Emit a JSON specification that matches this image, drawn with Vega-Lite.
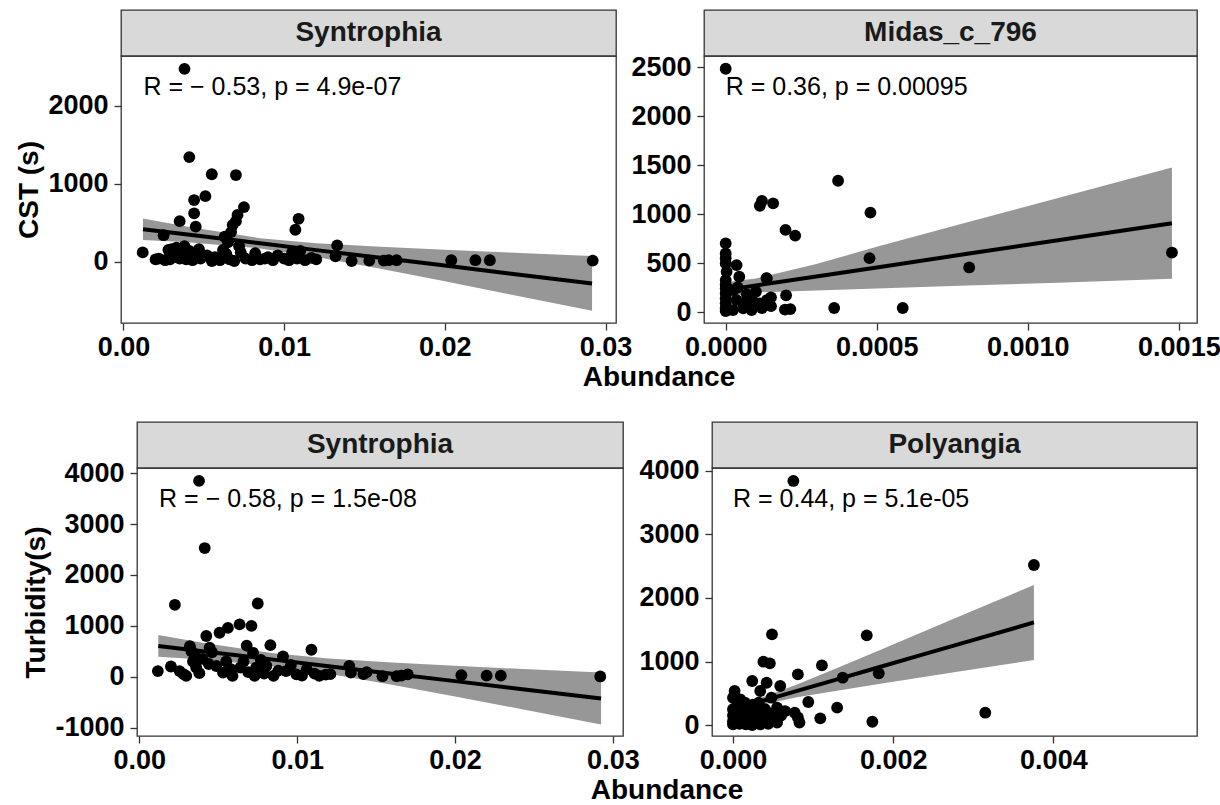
{
  "$schema": "https://vega.github.io/schema/vega-lite/v6.json",
  "padding": {"left": 13, "top": 9, "right": 5, "bottom": 5},
  "config": {
    "font": "Liberation Sans",
    "locale": {"number": {"decimal": ".", "thousands": ",", "grouping": [3], "currency": ["$", ""], "minus": "-"}},
    "view": {"stroke": "#333333", "strokeWidth": 1.3},
    "axis": {
      "grid": false, "domain": false,
      "tickColor": "#333333", "tickSize": 7, "tickWidth": 1.3,
      "labelFont": "Liberation Sans", "labelFontSize": 27, "labelFontWeight": "bold", "labelColor": "#000000",
      "titleFont": "Liberation Sans", "titleFontSize": 28, "titleFontWeight": "bold", "titleColor": "#000000",
      "labelFlush": false, "labelOverlap": false, "labelPadding": 4, "titlePadding": 4
    },
    "axisY": {"labelPadding": 6, "format": "d"}
  },
  "datasets": {
    "p1": [
      {"abundance": 0.0012, "value": 120}, {"abundance": 0.0020, "value": 30}, {"abundance": 0.0022, "value": 40},
      {"abundance": 0.0025, "value": 340}, {"abundance": 0.0026, "value": 20}, {"abundance": 0.0028, "value": 150},
      {"abundance": 0.0029, "value": 30}, {"abundance": 0.0030, "value": 160}, {"abundance": 0.0032, "value": 60},
      {"abundance": 0.0033, "value": 180}, {"abundance": 0.0035, "value": 520}, {"abundance": 0.0035, "value": 40},
      {"abundance": 0.0036, "value": 100}, {"abundance": 0.0038, "value": 2470}, {"abundance": 0.0038, "value": 200},
      {"abundance": 0.0039, "value": 30}, {"abundance": 0.0041, "value": 1340}, {"abundance": 0.0041, "value": 140},
      {"abundance": 0.0043, "value": 20}, {"abundance": 0.0044, "value": 790}, {"abundance": 0.0044, "value": 620},
      {"abundance": 0.0045, "value": 450}, {"abundance": 0.0045, "value": 100}, {"abundance": 0.0047, "value": 160},
      {"abundance": 0.0048, "value": 40}, {"abundance": 0.0051, "value": 840}, {"abundance": 0.0052, "value": 80},
      {"abundance": 0.0055, "value": 1120}, {"abundance": 0.0055, "value": 10}, {"abundance": 0.0057, "value": 60},
      {"abundance": 0.0060, "value": 20}, {"abundance": 0.0062, "value": 150}, {"abundance": 0.0063, "value": 320},
      {"abundance": 0.0064, "value": 100}, {"abundance": 0.0065, "value": 250}, {"abundance": 0.0066, "value": 30},
      {"abundance": 0.0067, "value": 380}, {"abundance": 0.0068, "value": 470}, {"abundance": 0.0069, "value": 10},
      {"abundance": 0.0070, "value": 1110}, {"abundance": 0.0070, "value": 520}, {"abundance": 0.0071, "value": 600},
      {"abundance": 0.0072, "value": 200}, {"abundance": 0.0073, "value": 120}, {"abundance": 0.0075, "value": 700},
      {"abundance": 0.0076, "value": 40}, {"abundance": 0.0080, "value": 20}, {"abundance": 0.0082, "value": 110},
      {"abundance": 0.0085, "value": 30}, {"abundance": 0.0088, "value": 40}, {"abundance": 0.0090, "value": 60},
      {"abundance": 0.0093, "value": 20}, {"abundance": 0.0096, "value": 80}, {"abundance": 0.0100, "value": 40},
      {"abundance": 0.0103, "value": 20}, {"abundance": 0.0105, "value": 120}, {"abundance": 0.0107, "value": 410},
      {"abundance": 0.0108, "value": 40}, {"abundance": 0.0109, "value": 550}, {"abundance": 0.0110, "value": 140},
      {"abundance": 0.0113, "value": 20}, {"abundance": 0.0117, "value": 50}, {"abundance": 0.0120, "value": 30},
      {"abundance": 0.0132, "value": 70}, {"abundance": 0.0133, "value": 210}, {"abundance": 0.0142, "value": 10},
      {"abundance": 0.0153, "value": 15}, {"abundance": 0.0162, "value": 15}, {"abundance": 0.0165, "value": 20},
      {"abundance": 0.0170, "value": 20}, {"abundance": 0.0204, "value": 20}, {"abundance": 0.0219, "value": 20},
      {"abundance": 0.0228, "value": 20}, {"abundance": 0.0292, "value": 15}
    ],
    "b1": [
      {"abundance": 0.00122, "fit": 417, "lo": 279, "hi": 555},
      {"abundance": 0.004, "fit": 348, "lo": 249, "hi": 447},
      {"abundance": 0.0085, "fit": 236, "lo": 171, "hi": 301},
      {"abundance": 0.012, "fit": 149, "lo": 62, "hi": 236},
      {"abundance": 0.016, "fit": 50, "lo": -91, "hi": 191},
      {"abundance": 0.020, "fit": -49, "lo": -251, "hi": 153},
      {"abundance": 0.024, "fit": -149, "lo": -415, "hi": 117},
      {"abundance": 0.02916, "fit": -277, "lo": -627, "hi": 73}
    ],
    "p2": [
      {"abundance": 0, "value": 2483}, {"abundance": 0.000372, "value": 1340}, {"abundance": 0.000113, "value": 1085},
      {"abundance": 0.00012, "value": 1133}, {"abundance": 0.000157, "value": 1109}, {"abundance": 0.000479, "value": 1014},
      {"abundance": 0.000198, "value": 838}, {"abundance": 0.00023, "value": 780}, {"abundance": 0.000476, "value": 550},
      {"abundance": 0.000806, "value": 455}, {"abundance": 0.001477, "value": 607}, {"abundance": 0.000135, "value": 346},
      {"abundance": 0.0002, "value": 170}, {"abundance": 0.000196, "value": 24}, {"abundance": 0.000214, "value": 30},
      {"abundance": 0.000359, "value": 41}, {"abundance": 0.000586, "value": 41},
      {"abundance": 0, "value": 700}, {"abundance": 0, "value": 598}, {"abundance": 0, "value": 550},
      {"abundance": 0, "value": 496}, {"abundance": 0.000003, "value": 411}, {"abundance": 0, "value": 326},
      {"abundance": 0, "value": 280}, {"abundance": 0.000036, "value": 479}, {"abundance": 0.000045, "value": 360},
      {"abundance": 0, "value": 241}, {"abundance": 0, "value": 190}, {"abundance": 0, "value": 140},
      {"abundance": 0, "value": 90}, {"abundance": 0, "value": 38}, {"abundance": 0, "value": 10},
      {"abundance": 0.000025, "value": 224}, {"abundance": 0.000036, "value": 122}, {"abundance": 0.000024, "value": 20},
      {"abundance": 0.000058, "value": 38}, {"abundance": 0.00008, "value": 156}, {"abundance": 0.0001, "value": 207},
      {"abundance": 0.000136, "value": 343}, {"abundance": 0.000113, "value": 89}, {"abundance": 0.000136, "value": 122},
      {"abundance": 0.000086, "value": 20}, {"abundance": 0.00006, "value": 90}, {"abundance": 0.00007, "value": 180},
      {"abundance": 0.00012, "value": 40}, {"abundance": 0.00015, "value": 150}, {"abundance": 0.00015, "value": 60},
      {"abundance": 0.00004, "value": 250}, {"abundance": 0.00009, "value": 110}
    ],
    "b2": [
      {"abundance": 0.0, "fit": 225, "lo": 145, "hi": 305},
      {"abundance": 0.0001, "fit": 271, "lo": 200, "hi": 342},
      {"abundance": 0.0003, "fit": 363, "lo": 220, "hi": 490},
      {"abundance": 0.0005, "fit": 455, "lo": 240, "hi": 665},
      {"abundance": 0.0008, "fit": 594, "lo": 270, "hi": 915},
      {"abundance": 0.0011, "fit": 732, "lo": 300, "hi": 1165},
      {"abundance": 0.001477, "fit": 906, "lo": 340, "hi": 1475}
    ],
    "p3": [
      {"abundance": 0.00117, "value": 110}, {"abundance": 0.0020, "value": 200}, {"abundance": 0.00225, "value": 1414},
      {"abundance": 0.00255, "value": 110}, {"abundance": 0.0028, "value": 50}, {"abundance": 0.00297, "value": 15},
      {"abundance": 0.0032, "value": 600}, {"abundance": 0.0033, "value": 500}, {"abundance": 0.0034, "value": 300},
      {"abundance": 0.0035, "value": 420}, {"abundance": 0.0036, "value": 180}, {"abundance": 0.00378, "value": 3850},
      {"abundance": 0.0038, "value": 70}, {"abundance": 0.0040, "value": 350}, {"abundance": 0.00414, "value": 2530},
      {"abundance": 0.00424, "value": 800}, {"abundance": 0.0044, "value": 250}, {"abundance": 0.00445, "value": 570},
      {"abundance": 0.0046, "value": 480}, {"abundance": 0.00488, "value": 210}, {"abundance": 0.00508, "value": 865},
      {"abundance": 0.0053, "value": 80}, {"abundance": 0.0055, "value": 300}, {"abundance": 0.00561, "value": 960},
      {"abundance": 0.0058, "value": 150}, {"abundance": 0.0059, "value": 15}, {"abundance": 0.00635, "value": 1030},
      {"abundance": 0.0064, "value": 180}, {"abundance": 0.0066, "value": 300}, {"abundance": 0.0068, "value": 610},
      {"abundance": 0.0069, "value": 90}, {"abundance": 0.0071, "value": 1000}, {"abundance": 0.0072, "value": 470},
      {"abundance": 0.0073, "value": 15}, {"abundance": 0.0074, "value": 180}, {"abundance": 0.0075, "value": 1440},
      {"abundance": 0.0077, "value": 330}, {"abundance": 0.0079, "value": 60}, {"abundance": 0.00805, "value": 210},
      {"abundance": 0.0083, "value": 620}, {"abundance": 0.0085, "value": 15}, {"abundance": 0.0088, "value": 120},
      {"abundance": 0.0091, "value": 400}, {"abundance": 0.0093, "value": 110}, {"abundance": 0.0096, "value": 230},
      {"abundance": 0.00995, "value": 45}, {"abundance": 0.0103, "value": 20}, {"abundance": 0.0106, "value": 145},
      {"abundance": 0.0109, "value": 530}, {"abundance": 0.0111, "value": 60}, {"abundance": 0.0114, "value": 15},
      {"abundance": 0.0118, "value": 40}, {"abundance": 0.0121, "value": 50}, {"abundance": 0.0133, "value": 210},
      {"abundance": 0.0134, "value": 80}, {"abundance": 0.0142, "value": 50}, {"abundance": 0.0144, "value": 90},
      {"abundance": 0.0154, "value": 10}, {"abundance": 0.0163, "value": 10}, {"abundance": 0.0166, "value": 20},
      {"abundance": 0.0170, "value": 45}, {"abundance": 0.0204, "value": 30}, {"abundance": 0.0220, "value": 20},
      {"abundance": 0.0229, "value": 20}, {"abundance": 0.0292, "value": 5}
    ],
    "b3": [
      {"abundance": 0.0012, "fit": 605, "lo": 391, "hi": 819},
      {"abundance": 0.004, "fit": 502, "lo": 338, "hi": 666},
      {"abundance": 0.0085, "fit": 336, "lo": 211, "hi": 461},
      {"abundance": 0.012, "fit": 207, "lo": 57, "hi": 357},
      {"abundance": 0.016, "fit": 60, "lo": -158, "hi": 278},
      {"abundance": 0.020, "fit": -87, "lo": -388, "hi": 214},
      {"abundance": 0.024, "fit": -235, "lo": -625, "hi": 155},
      {"abundance": 0.02925, "fit": -428, "lo": -938, "hi": 82}
    ],
    "p4": [
      {"abundance": 0.000754, "value": 3843}, {"abundance": 0.003757, "value": 2520}, {"abundance": 0.000487, "value": 1428},
      {"abundance": 0.00167, "value": 1412}, {"abundance": 0.00038, "value": 997}, {"abundance": 0.00046, "value": 971},
      {"abundance": 0.00111, "value": 940}, {"abundance": 0.00081, "value": 798}, {"abundance": 0.00137, "value": 745},
      {"abundance": 0.00182, "value": 814}, {"abundance": 0.00024, "value": 693}, {"abundance": 0.00042, "value": 666},
      {"abundance": 0.00059, "value": 614}, {"abundance": 0.00002, "value": 535}, {"abundance": 0.00034, "value": 535},
      {"abundance": 0.0, "value": 430}, {"abundance": 0.00009, "value": 405}, {"abundance": 0.00032, "value": 351},
      {"abundance": 0.00048, "value": 430}, {"abundance": 0.00094, "value": 362}, {"abundance": 0.0013, "value": 273},
      {"abundance": 0.00109, "value": 105}, {"abundance": 0.00174, "value": 52}, {"abundance": 0.00315, "value": 194},
      {"abundance": 0.00055, "value": 272}, {"abundance": 0.00065, "value": 220}, {"abundance": 0.00077, "value": 194},
      {"abundance": 0.00083, "value": 40}, {"abundance": 0.00081, "value": 120},
      {"abundance": 0.0, "value": 250}, {"abundance": 0.0, "value": 150}, {"abundance": 0.0, "value": 60},
      {"abundance": 0.0, "value": 10}, {"abundance": 0.00005, "value": 300}, {"abundance": 0.00006, "value": 100},
      {"abundance": 0.00008, "value": 20}, {"abundance": 0.0001, "value": 200}, {"abundance": 0.00012, "value": 80},
      {"abundance": 0.00014, "value": 280}, {"abundance": 0.00016, "value": 10}, {"abundance": 0.00018, "value": 150},
      {"abundance": 0.0002, "value": 60}, {"abundance": 0.00022, "value": 230}, {"abundance": 0.00024, "value": 0},
      {"abundance": 0.00026, "value": 120}, {"abundance": 0.00028, "value": 40}, {"abundance": 0.0003, "value": 190},
      {"abundance": 0.00032, "value": 90}, {"abundance": 0.00034, "value": 10}, {"abundance": 0.00036, "value": 160},
      {"abundance": 0.00038, "value": 50}, {"abundance": 0.0004, "value": 250}, {"abundance": 0.00042, "value": 100},
      {"abundance": 0.00044, "value": 20}, {"abundance": 0.00046, "value": 180}, {"abundance": 0.00048, "value": 70},
      {"abundance": 0.0005, "value": 130}, {"abundance": 0.0006, "value": 150}, {"abundance": 0.00055, "value": 40},
      {"abundance": 0.00005, "value": 200}, {"abundance": 0.00015, "value": 350}, {"abundance": 0.00025, "value": 320}
    ],
    "b4": [
      {"abundance": 0.0, "fit": 245, "lo": 173, "hi": 317},
      {"abundance": 0.0003, "fit": 354, "lo": 304, "hi": 404},
      {"abundance": 0.0008, "fit": 537, "lo": 438, "hi": 636},
      {"abundance": 0.0013, "fit": 719, "lo": 541, "hi": 897},
      {"abundance": 0.0018, "fit": 901, "lo": 641, "hi": 1161},
      {"abundance": 0.0023, "fit": 1084, "lo": 740, "hi": 1428},
      {"abundance": 0.0028, "fit": 1266, "lo": 837, "hi": 1695},
      {"abundance": 0.003757, "fit": 1615, "lo": 1024, "hi": 2206}
    ]
  },
  "columns": 1, "align": "none", "spacing": 29,
  "concat": [
    {
      "columns": 3, "align": "each", "bounds": "flush",
      "spacing": {"row": 0, "column": 88},
      "title": {"text": "Abundance", "orient": "bottom", "anchor": "middle", "frame": "group", "dx": 646, "fontSize": 28, "fontWeight": "bold", "color": "#000000", "offset": 3},
      "concat": [
        {
          "width": 20, "height": 10,
          "view": {"stroke": null, "fill": null},
          "data": {"values": [{"label": ""}]},
          "mark": {"type": "text"},
          "encoding": {"text": {"field": "label"}}
        },
        {
          "width": 495, "height": 46,
          "view": {"fill": "#d9d9d9", "stroke": "#333333", "strokeWidth": 1.3},
          "data": {"values": [{"label": "Syntrophia"}]},
          "mark": {"type": "text", "fontSize": 28, "fontWeight": "bold", "color": "#1a1a1a"},
          "encoding": {"text": {"field": "label"}}
        },
        {
          "width": 493, "height": 46,
          "view": {"fill": "#d9d9d9", "stroke": "#333333", "strokeWidth": 1.3},
          "data": {"values": [{"label": "Midas_c_796"}]},
          "mark": {"type": "text", "fontSize": 28, "fontWeight": "bold", "color": "#1a1a1a"},
          "encoding": {"text": {"field": "label"}}
        },
        {
          "width": 20, "height": 10,
          "view": {"stroke": null, "fill": null},
          "data": {"values": [{"label": ""}]},
          "mark": {"type": "text"},
          "encoding": {"text": {"field": "label"}}
        },
        {
          "width": 495, "height": 267,
          "layer": [
            {
              "data": {"name": "b1"},
              "mark": {"type": "area", "color": "#979797", "opacity": 1},
              "encoding": {
                "x": {"field": "abundance", "type": "quantitative", "title": null, "scale": {"domain": [-0.00015, 0.03065], "nice": false, "zero": false}, "axis": {"values": [0, 0.01, 0.02, 0.03], "format": ".2f"}},
                "y": {"field": "lo", "type": "quantitative", "title": "CST (s)", "scale": {"domain": [-784, 2634], "nice": false, "zero": false}, "axis": {"values": [0, 1000, 2000]}},
                "y2": {"field": "hi"}
              }
            },
            {
              "data": {"name": "p1"},
              "mark": {"type": "circle", "size": 140, "color": "#000000", "opacity": 1},
              "encoding": {
                "x": {"field": "abundance", "type": "quantitative", "title": null},
                "y": {"field": "value", "type": "quantitative", "title": "CST (s)"}
              }
            },
            {
              "data": {"name": "b1"},
              "mark": {"type": "line", "color": "#000000", "strokeWidth": 4},
              "encoding": {
                "x": {"field": "abundance", "type": "quantitative", "title": null},
                "y": {"field": "fit", "type": "quantitative", "title": "CST (s)"}
              }
            },
            {
              "data": {"values": [{"abundance": 0.00125, "value": 2470, "label": "R = − 0.53, p = 4.9e-07"}]},
              "mark": {"type": "text", "align": "left", "baseline": "alphabetic", "dy": 26, "fontSize": 25, "color": "#000000"},
              "encoding": {
                "x": {"field": "abundance", "type": "quantitative", "title": null},
                "y": {"field": "value", "type": "quantitative", "title": "CST (s)"},
                "text": {"field": "label"}
              }
            }
          ]
        },
        {
          "width": 493, "height": 267,
          "layer": [
            {
              "data": {"name": "b2"},
              "mark": {"type": "area", "color": "#979797", "opacity": 1},
              "encoding": {
                "x": {"field": "abundance", "type": "quantitative", "title": null, "scale": {"domain": [-0.0000718, 0.00156], "nice": false, "zero": false}, "axis": {"values": [0, 0.0005, 0.001, 0.0015], "format": ".4f"}},
                "y": {"field": "lo", "type": "quantitative", "title": null, "scale": {"domain": [-112, 2613], "nice": false, "zero": false}, "axis": {"values": [0, 500, 1000, 1500, 2000, 2500]}},
                "y2": {"field": "hi"}
              }
            },
            {
              "data": {"name": "p2"},
              "mark": {"type": "circle", "size": 140, "color": "#000000", "opacity": 1},
              "encoding": {
                "x": {"field": "abundance", "type": "quantitative", "title": null},
                "y": {"field": "value", "type": "quantitative", "title": null}
              }
            },
            {
              "data": {"name": "b2"},
              "mark": {"type": "line", "color": "#000000", "strokeWidth": 4},
              "encoding": {
                "x": {"field": "abundance", "type": "quantitative", "title": null},
                "y": {"field": "fit", "type": "quantitative", "title": null}
              }
            },
            {
              "data": {"values": [{"abundance": 0, "value": 2483, "label": "R = 0.36, p = 0.00095"}]},
              "mark": {"type": "text", "align": "left", "baseline": "alphabetic", "dy": 26, "fontSize": 25, "color": "#000000"},
              "encoding": {
                "x": {"field": "abundance", "type": "quantitative", "title": null},
                "y": {"field": "value", "type": "quantitative", "title": null},
                "text": {"field": "label"}
              }
            }
          ]
        }
      ]
    },
    {
      "columns": 3, "align": "each", "bounds": "flush",
      "spacing": {"row": 0, "column": 89},
      "title": {"text": "Abundance", "orient": "bottom", "anchor": "middle", "frame": "group", "dx": 654, "fontSize": 28, "fontWeight": "bold", "color": "#000000", "offset": 3},
      "concat": [
        {
          "width": 35, "height": 10,
          "view": {"stroke": null, "fill": null},
          "data": {"values": [{"label": ""}]},
          "mark": {"type": "text"},
          "encoding": {"text": {"field": "label"}}
        },
        {
          "width": 486, "height": 46,
          "view": {"fill": "#d9d9d9", "stroke": "#333333", "strokeWidth": 1.3},
          "data": {"values": [{"label": "Syntrophia"}]},
          "mark": {"type": "text", "fontSize": 28, "fontWeight": "bold", "color": "#1a1a1a"},
          "encoding": {"text": {"field": "label"}}
        },
        {
          "width": 485, "height": 46,
          "view": {"fill": "#d9d9d9", "stroke": "#333333", "strokeWidth": 1.3},
          "data": {"values": [{"label": "Polyangia"}]},
          "mark": {"type": "text", "fontSize": 28, "fontWeight": "bold", "color": "#1a1a1a"},
          "encoding": {"text": {"field": "label"}}
        },
        {
          "width": 35, "height": 10,
          "view": {"stroke": null, "fill": null},
          "data": {"values": [{"label": ""}]},
          "mark": {"type": "text"},
          "encoding": {"text": {"field": "label"}}
        },
        {
          "width": 486, "height": 268,
          "layer": [
            {
              "data": {"name": "b3"},
              "mark": {"type": "area", "color": "#979797", "opacity": 1},
              "encoding": {
                "x": {"field": "abundance", "type": "quantitative", "title": null, "scale": {"domain": [-0.00015, 0.03064], "nice": false, "zero": false}, "axis": {"values": [0, 0.01, 0.02, 0.03], "format": ".2f"}},
                "y": {"field": "lo", "type": "quantitative", "title": "Turbidity(s)", "scale": {"domain": [-1166, 4104], "nice": false, "zero": false}, "axis": {"values": [-1000, 0, 1000, 2000, 3000, 4000]}},
                "y2": {"field": "hi"}
              }
            },
            {
              "data": {"name": "p3"},
              "mark": {"type": "circle", "size": 140, "color": "#000000", "opacity": 1},
              "encoding": {
                "x": {"field": "abundance", "type": "quantitative", "title": null},
                "y": {"field": "value", "type": "quantitative", "title": "Turbidity(s)"}
              }
            },
            {
              "data": {"name": "b3"},
              "mark": {"type": "line", "color": "#000000", "strokeWidth": 4},
              "encoding": {
                "x": {"field": "abundance", "type": "quantitative", "title": null},
                "y": {"field": "fit", "type": "quantitative", "title": "Turbidity(s)"}
              }
            },
            {
              "data": {"values": [{"abundance": 0.00125, "value": 3850, "label": "R = − 0.58, p = 1.5e-08"}]},
              "mark": {"type": "text", "align": "left", "baseline": "alphabetic", "dy": 26, "fontSize": 25, "color": "#000000"},
              "encoding": {
                "x": {"field": "abundance", "type": "quantitative", "title": null},
                "y": {"field": "value", "type": "quantitative", "title": "Turbidity(s)"},
                "text": {"field": "label"}
              }
            }
          ]
        },
        {
          "width": 485, "height": 268,
          "layer": [
            {
              "data": {"name": "b4"},
              "mark": {"type": "area", "color": "#979797", "opacity": 1},
              "encoding": {
                "x": {"field": "abundance", "type": "quantitative", "title": null, "scale": {"domain": [-0.000262, 0.005793], "nice": false, "zero": false}, "axis": {"values": [0, 0.002, 0.004], "format": ".3f"}},
                "y": {"field": "lo", "type": "quantitative", "title": null, "scale": {"domain": [-173, 4047], "nice": false, "zero": false}, "axis": {"values": [0, 1000, 2000, 3000, 4000]}},
                "y2": {"field": "hi"}
              }
            },
            {
              "data": {"name": "p4"},
              "mark": {"type": "circle", "size": 140, "color": "#000000", "opacity": 1},
              "encoding": {
                "x": {"field": "abundance", "type": "quantitative", "title": null},
                "y": {"field": "value", "type": "quantitative", "title": null}
              }
            },
            {
              "data": {"name": "b4"},
              "mark": {"type": "line", "color": "#000000", "strokeWidth": 4},
              "encoding": {
                "x": {"field": "abundance", "type": "quantitative", "title": null},
                "y": {"field": "fit", "type": "quantitative", "title": null}
              }
            },
            {
              "data": {"values": [{"abundance": 0, "value": 3843, "label": "R = 0.44, p = 5.1e-05"}]},
              "mark": {"type": "text", "align": "left", "baseline": "alphabetic", "dy": 26, "fontSize": 25, "color": "#000000"},
              "encoding": {
                "x": {"field": "abundance", "type": "quantitative", "title": null},
                "y": {"field": "value", "type": "quantitative", "title": null},
                "text": {"field": "label"}
              }
            }
          ]
        }
      ]
    }
  ]
}
